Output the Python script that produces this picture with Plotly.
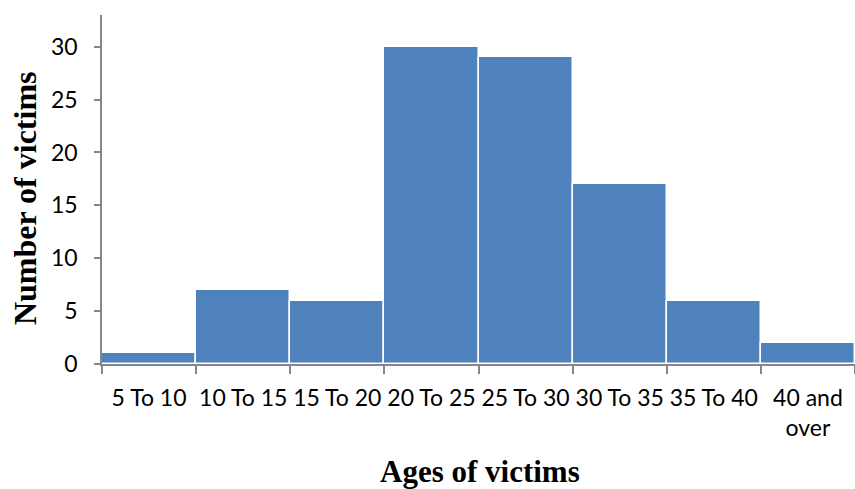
import plotly.graph_objects as go

# Age groups and victim counts
age_groups = ["5 To 10", "10 To 15", "15 To 20", "20 To 25", "25 To 30",
              "30 To 35", "35 To 40", "40 and<br>over"]
victims = [1, 7, 6, 30, 29, 17, 6, 2]
y_ticks = [0, 5, 10, 15, 20, 25, 30]

BAR_COLOR = "#4F81BD"
AXIS_COLOR = "#868686"
TICK_FONT = dict(family="Lato, Open Sans, sans-serif", size=23, color="#000000")
TITLE_FONT = dict(family="Liberation Serif, Times New Roman, serif", size=31, color="#000000")

fig = go.Figure(
    go.Bar(
        x=age_groups,
        y=victims,
        marker=dict(color=BAR_COLOR, line=dict(color="#FFFFFF", width=1.5)),
        width=1.0,
        hoverinfo="x+y",
    )
)

fig.update_layout(
    width=855,
    height=489,
    margin=dict(l=102, r=0, t=15, b=125),
    paper_bgcolor="#FFFFFF",
    plot_bgcolor="#FFFFFF",
    bargap=0,
    showlegend=False,
    xaxis=dict(
        type="category",
        tickson="boundaries",
        ticks="outside",
        ticklen=8,
        tickwidth=1.5,
        tickcolor=AXIS_COLOR,
        showline=True,
        linecolor=AXIS_COLOR,
        linewidth=1.5,
        showgrid=False,
        tickfont=TICK_FONT,
        tickangle=0,
        ticklabelstandoff=13,
        range=[-0.5, 7.5],
    ),
    yaxis=dict(
        range=[0, 33],
        tickvals=y_ticks,
        ticks="outside",
        ticklen=6,
        tickwidth=1.5,
        tickcolor=AXIS_COLOR,
        showline=True,
        linecolor=AXIS_COLOR,
        linewidth=1.5,
        showgrid=False,
        zeroline=False,
        tickfont=TICK_FONT,
        ticklabelstandoff=12,
    ),
    annotations=[
        dict(
            text="<b>Number of victims</b>",
            xref="paper", yref="paper",
            x=-0.102, y=0.476,
            xanchor="center", yanchor="middle",
            textangle=-90,
            showarrow=False,
            font=dict(TITLE_FONT, size=32),
        ),
        dict(
            text="<b>Ages of victims</b>",
            xref="paper", yref="paper",
            x=0.502, y=-0.309,
            xanchor="center", yanchor="middle",
            showarrow=False,
            font=TITLE_FONT,
        ),
    ],
)

fig.write_html("out.html")
